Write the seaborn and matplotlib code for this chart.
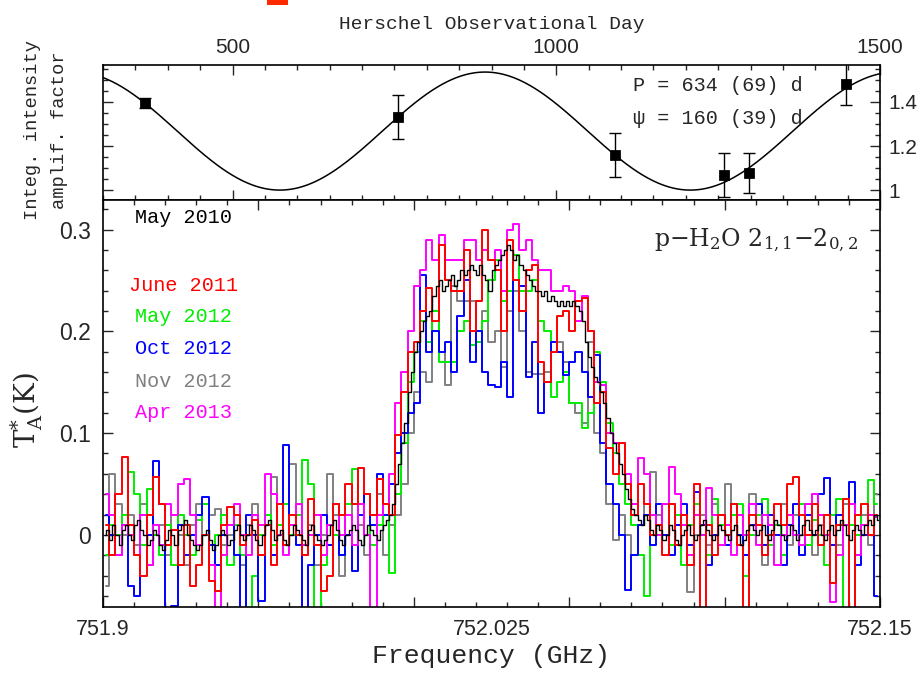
import numpy as np
import pandas as pd
import matplotlib
matplotlib.use("Agg")
import matplotlib.pyplot as plt
from matplotlib.patches import Rectangle
from matplotlib.ticker import MultipleLocator, FuncFormatter
import seaborn as sns

# --- top panel: integrated intensity amplification factor vs Herschel day ---
obs_day = [365, 756, 1091, 1259, 1298, 1447]
amp_factor = [1.395, 1.332, 1.159, 1.068, 1.077, 1.48]
amp_err = [0.023, 0.10, 0.10, 0.10, 0.09, 0.095]

# sinusoidal fit (period from the panel text)
fit_period = 634
fit_day_max = 890
fit_mean = 1.268
fit_amp = 0.268

# --- bottom panel: spectra (T_A* in K) ---
epochs = ["June 2011", "May 2012", "Oct 2012", "Nov 2012", "Apr 2013"]
epoch_colors = ["#ff0000", "#00ee00", "#0000ff", "#808080", "#ff00ff"]
chan_start = 751.901   # centre of first channel, colour spectra
chan_width = 0.002
black_start = 751.9005  # May 2010 spectrum has finer channels
black_width = 0.001

ta_jun2011 = [
    0.01, -0.02, 0.04, 0.077, 0.01, -0.02, -0.04, 0.02, 0.057, 0.03,
    -0.01, 0.005, -0.03, 0.01, -0.05, -0.03, 0.0, -0.045, -0.055, 0.01,
    0.027, 0.02, -0.01, 0.0, 0.015, -0.02, 0.01, -0.03, 0.03, -0.01,
    0.02, 0.0, -0.02, 0.035, -0.01, -0.055, -0.04, 0.03, 0.02, 0.05,
    0.03, 0.066, 0.04, 0.02, 0.055, 0.03, 0.02, 0.098, 0.14, 0.18,
    0.19, 0.22, 0.243, 0.21, 0.285, 0.25, 0.24, 0.24, 0.28, 0.2,
    0.23, 0.30, 0.27, 0.26, 0.2, 0.29, 0.25, 0.22, 0.26, 0.265,
    0.17, 0.15, 0.18, 0.215, 0.22, 0.2, 0.23, 0.233, 0.2, 0.13,
    0.14, 0.085, 0.06, 0.09, 0.05, 0.02, 0.05, 0.03, 0.0, 0.01,
    -0.02, 0.03, -0.01, 0.02, -0.03, 0.05, -0.08, 0.01, -0.02, 0.02,
    0.0, 0.03, -0.01, -0.08, 0.02, 0.01, -0.02, 0.0, 0.03, 0.01,
    0.05, 0.057, 0.02, 0.0, 0.03, -0.01, 0.02, -0.047, 0.01, 0.035,
    -0.08, 0.02, 0.03, 0.0, 0.02,
]
ta_may2012 = [
    -0.02, 0.01, 0.0, 0.02, 0.062, 0.04, -0.01, 0.045, 0.0, -0.02,
    0.01, -0.03, 0.02, 0.0, -0.02, 0.015, 0.03, -0.01, 0.0, 0.02,
    -0.03, 0.01, -0.02, -0.08, -0.04, 0.0, 0.02, -0.01, 0.01, 0.03,
    0.0, 0.02, 0.074, 0.05, -0.08, -0.03, 0.01, 0.0, -0.02, 0.03,
    0.065, 0.02, 0.04, -0.01, 0.01, 0.03, -0.037, 0.04, 0.09, 0.15,
    0.18, 0.21, 0.19, 0.22, 0.17, 0.17, 0.17, 0.2, 0.21, 0.187,
    0.19, 0.21, 0.25, 0.27, 0.23, 0.24, 0.275, 0.24, 0.24, 0.25,
    0.21, 0.2, 0.135, 0.15, 0.16, 0.13, 0.13, 0.105, 0.12, 0.18,
    0.15, 0.11, 0.08, 0.05, 0.03, 0.01, -0.02, -0.06, 0.02, 0.0,
    0.03, -0.01, 0.02, -0.03, 0.01, 0.03, 0.0, -0.02, 0.035, 0.01,
    -0.01, 0.02, 0.03, -0.04, 0.0, 0.02, 0.035, -0.01, 0.01, -0.02,
    0.02, 0.0, 0.03, -0.01, 0.015, 0.0, -0.03, 0.02, 0.035, -0.08,
    0.01, 0.0, 0.03, 0.054, 0.03,
]
ta_oct2012 = [
    0.02, 0.0, -0.02, 0.01, -0.05, -0.06, 0.02, 0.0, 0.073, 0.03,
    -0.08, -0.07, 0.01, -0.02, 0.0, 0.02, 0.037, -0.01, -0.03, 0.0,
    0.01, -0.02, -0.08, 0.02, 0.0, -0.065, 0.01, -0.02, 0.03, 0.088,
    0.02, -0.01, -0.08, -0.03, 0.0, 0.02, -0.01, 0.03, -0.02, 0.0,
    -0.035, 0.02, 0.04, 0.01, 0.06, 0.02, 0.05, 0.08, 0.1, 0.12,
    0.13, 0.255, 0.18, 0.2, 0.18, 0.19, 0.16, 0.215, 0.25, 0.17,
    0.2, 0.16, 0.147, 0.145, 0.17, 0.135, 0.25, 0.245, 0.155, 0.19,
    0.12, 0.15, 0.19, 0.18, 0.157, 0.17, 0.18, 0.16, 0.135, 0.177,
    0.09, 0.05, 0.03, 0.0, -0.054, -0.02, 0.01, 0.02, -0.01, 0.03,
    0.0, -0.02, 0.01, 0.03, -0.01, 0.042, 0.01, -0.03, 0.0, 0.02,
    -0.01, 0.03, 0.0, -0.02, 0.01, 0.03, -0.01, 0.02, 0.0, -0.03,
    0.01, 0.03, -0.02, 0.02, 0.0, 0.04, 0.056, -0.01, 0.02, 0.01,
    0.052, -0.03, 0.0, 0.02, -0.06,
]
ta_nov2012 = [
    -0.05, 0.06, 0.03, 0.0, 0.02, -0.01, 0.03, -0.03, 0.0, 0.01,
    -0.02, 0.02, 0.0, -0.03, 0.01, 0.03, 0.0, 0.02, 0.025, -0.01,
    0.0, 0.02, -0.03, 0.01, 0.03, 0.0, 0.02, 0.057, 0.01, -0.01,
    0.07, 0.03, -0.02, 0.01, -0.03, 0.0, 0.06, 0.02, -0.04, 0.0,
    0.03, 0.01, -0.02, 0.02, 0.04, -0.02, 0.01, 0.02, 0.05, 0.1,
    0.14, 0.16, 0.15, 0.22, 0.18, 0.147, 0.245, 0.23, 0.23, 0.23,
    0.19, 0.22, 0.19, 0.2, 0.165, 0.22, 0.24, 0.2, 0.16, 0.158,
    0.158, 0.16, 0.18, 0.19, 0.17, 0.13, 0.12, 0.11, 0.19, 0.1,
    0.08, 0.03, -0.005, 0.02, 0.0, -0.02, 0.01, 0.03, 0.062, 0.02,
    0.0, 0.03, -0.01, 0.02, -0.056, 0.0, 0.02, -0.01, 0.03, 0.01,
    0.05, 0.02, 0.0, -0.02, 0.04, 0.01, -0.03, 0.02, 0.0, 0.03,
    -0.01, 0.02, 0.0, 0.03, -0.02, 0.01, 0.0, 0.02, -0.01, 0.03,
    -0.08, -0.02, 0.02, -0.01, 0.04,
]
ta_apr2013 = [
    0.04, 0.02, -0.02, 0.01, 0.0, -0.02, 0.02, -0.03, 0.01, -0.01,
    0.03, 0.02, 0.05, 0.055, 0.02, -0.01, 0.0, -0.03, -0.08, -0.02,
    0.01, 0.03, 0.0, -0.02, 0.02, 0.01, 0.06, 0.04, 0.0, -0.02,
    0.01, 0.03, -0.01, 0.0, 0.02, -0.02, 0.01, 0.03, 0.0, 0.02,
    -0.01, 0.03, 0.0, -0.08, 0.02, 0.03, 0.06, 0.13, 0.16, 0.2,
    0.245, 0.26, 0.29, 0.27, 0.295, 0.27, 0.27, 0.27, 0.29, 0.29,
    0.27, 0.28, 0.27, 0.28, 0.24, 0.30, 0.305, 0.28, 0.29, 0.27,
    0.26, 0.26, 0.24, 0.24, 0.245, 0.24, 0.21, 0.235, 0.2, 0.15,
    0.147, 0.1, 0.09, 0.09, 0.06, 0.03, 0.076, 0.06, 0.02, 0.0,
    0.03, 0.067, 0.04, 0.01, -0.02, 0.02, 0.0, 0.046, 0.02, -0.01,
    0.01, -0.02, 0.02, 0.0, 0.03, -0.01, 0.02, 0.01, -0.03, 0.0,
    0.02, 0.0, -0.01, 0.03, 0.04, 0.02, 0.0, -0.066, -0.02, 0.01,
    0.03, -0.02, 0.01, 0.02, 0.018,
]
ta_may2010 = [
    0.0, 0.005, -0.005, 0.01, 0.0, -0.01, 0.005, 0.01, 0.0, -0.005,
    0.01, 0.015, 0.005, 0.0, -0.01, -0.005, 0.005, 0.0, -0.01, -0.015,
    -0.005, 0.005, 0.0, -0.01, 0.005, 0.01, 0.015, 0.0, -0.005, -0.01,
    -0.015, -0.01, 0.0, 0.005, -0.005, -0.015, -0.01, 0.0, 0.005, 0.0,
    -0.01, -0.005, 0.005, 0.01, 0.0, -0.005, 0.0, 0.01, 0.005, -0.005,
    -0.01, 0.0, 0.01, 0.015, 0.005, -0.005, 0.0, 0.005, -0.005, -0.01,
    0.0, 0.01, 0.005, 0.0, -0.005, -0.01, 0.005, 0.01, 0.0, -0.005,
    -0.01, -0.005, 0.0, 0.01, 0.015, 0.005, -0.005, -0.01, 0.0, 0.005,
    0.01, 0.005, -0.005, -0.01, 0.0, 0.01, 0.005, 0.0, -0.005, 0.005,
    0.01, 0.015, 0.02, 0.03, 0.05, 0.07, 0.09, 0.11, 0.14, 0.16,
    0.18, 0.19, 0.20, 0.21, 0.215, 0.22, 0.235, 0.245, 0.25, 0.24,
    0.245, 0.25, 0.255, 0.245, 0.25, 0.26, 0.255, 0.26, 0.265, 0.26,
    0.255, 0.265, 0.255, 0.25, 0.24, 0.26, 0.265, 0.27, 0.275, 0.28,
    0.285, 0.28, 0.27, 0.275, 0.265, 0.26, 0.255, 0.25, 0.245, 0.24,
    0.24, 0.235, 0.24, 0.23, 0.235, 0.23, 0.225, 0.23, 0.225, 0.23,
    0.225, 0.23, 0.225, 0.22, 0.21, 0.19, 0.175, 0.165, 0.155, 0.15,
    0.14, 0.13, 0.115, 0.1, 0.09, 0.08, 0.07, 0.06, 0.045, 0.035,
    0.025, 0.02, 0.015, 0.01, 0.02, 0.015, 0.005, 0.0, 0.01, 0.005,
    -0.005, 0.0, 0.01, 0.005, -0.005, -0.01, 0.0, 0.005, 0.01, 0.0,
    -0.005, 0.0, 0.01, 0.015, 0.005, 0.0, -0.005, 0.0, 0.01, 0.005,
    0.0, -0.005, 0.005, 0.01, 0.0, -0.01, -0.005, 0.005, 0.01, 0.005,
    0.0, 0.005, 0.01, 0.0, -0.005, 0.005, 0.015, 0.01, 0.0, -0.005,
    0.0, 0.01, 0.005, -0.005, 0.0, 0.01, 0.015, 0.005, 0.0, 0.005,
    0.01, 0.0, -0.005, 0.005, 0.01, 0.0, 0.005, 0.015, 0.01, 0.0,
    -0.005, 0.005, 0.01, 0.005, 0.0, 0.01, 0.015, 0.01, 0.02, 0.015,
]

sns.set_theme(style="ticks")
plt.rcParams["font.family"] = ["Liberation Sans", "DejaVu Sans"]
plt.rcParams["mathtext.fontset"] = "dejavuserif"
MONO = ["Liberation Mono", "DejaVu Sans Mono"]

fig = plt.figure(figsize=(9.22, 6.78), dpi=100, facecolor="white")
ax_top = fig.add_axes([103 / 922, 1 - 200 / 678, 777 / 922, 135 / 678])
ax = fig.add_axes([103 / 922, 1 - 607 / 678, 777 / 922, 407 / 678])

# ---- top panel
days = np.linspace(300, 1500, 600)
fit_curve = fit_mean + fit_amp * np.cos(2 * np.pi * (days - fit_day_max) / fit_period)
sns.lineplot(x=days, y=fit_curve, ax=ax_top, color="black", lw=1.1)
ax_top.errorbar(obs_day, amp_factor, yerr=amp_err, fmt="none", ecolor="black",
                elinewidth=1.0, capsize=4, capthick=1.0)
sns.scatterplot(x=obs_day, y=amp_factor, ax=ax_top, marker="s", s=48,
                color="black", edgecolor="black", zorder=5)
ax_top.set_xlim(300, 1500)
ax_top.set_ylim(0.955, 1.568)
ax_top.xaxis.set_major_locator(MultipleLocator(500))
ax_top.xaxis.set_minor_locator(MultipleLocator(50))
ax_top.yaxis.set_major_locator(MultipleLocator(0.2))
ax_top.yaxis.set_minor_locator(MultipleLocator(0.05))
ax_top.yaxis.set_major_formatter(FuncFormatter(lambda v, p: "1" if abs(v - 1) < 1e-6 else f"{v:.1f}"))
ax_top.tick_params(which="both", direction="in", top=True, bottom=True, left=True, right=True,
                   labeltop=True, labelbottom=False, labelleft=False, labelright=True,
                   labelsize=15, pad=6)
ax_top.tick_params(which="major", length=7, width=1.0)
ax_top.tick_params(which="minor", length=3.5, width=1.0)
ax_top.xaxis.set_label_position("top")
ax_top.set_xlabel("Herschel Observational Day", family=MONO, fontsize=14, labelpad=6)
ax_top.set_ylabel("Integ. intensity\namplif. factor", family=MONO, fontsize=13.5, linespacing=1.8)
ax_top.yaxis.set_label_coords(-0.045, 0.52)
ax_top.text(0.682, 0.845, "P = 634 (69) d", transform=ax_top.transAxes, family=MONO,
            fontsize=14.5, va="center", ha="left")
ax_top.text(0.682, 0.605, "ψ = 160 (39) d", transform=ax_top.transAxes, family=MONO,
            fontsize=14.5, va="center", ha="left")

# ---- bottom panel
freq = chan_start + chan_width * np.arange(len(ta_jun2011))
spec = pd.DataFrame({
    "freq": np.tile(freq, len(epochs)),
    "ta": np.concatenate([ta_jun2011, ta_may2012, ta_oct2012, ta_nov2012, ta_apr2013]),
    "epoch": np.repeat(epochs, len(freq)),
})
draw_order = ["Nov 2012", "May 2012", "Oct 2012", "Apr 2013", "June 2011"]
palette = dict(zip(epochs, epoch_colors))
for ep in draw_order:
    sub = spec[spec["epoch"] == ep]
    sns.lineplot(data=sub, x="freq", y="ta", ax=ax, color=palette[ep], lw=1.4,
                 drawstyle="steps-mid", estimator=None, legend=False)
freq_black = black_start + black_width * np.arange(len(ta_may2010))
sns.lineplot(x=freq_black, y=ta_may2010, ax=ax, color="black", lw=1.0,
             drawstyle="steps-mid", estimator=None)

ax.set_xlim(751.9, 752.15)
ax.set_ylim(-0.0708, 0.329)
ax.xaxis.set_major_locator(MultipleLocator(0.05))
ax.xaxis.set_minor_locator(MultipleLocator(0.01))
ax.yaxis.set_major_locator(MultipleLocator(0.1))
ax.yaxis.set_minor_locator(MultipleLocator(0.02))
ax.yaxis.set_major_formatter(FuncFormatter(lambda v, p: "0" if abs(v) < 1e-9 else f"{v:.1f}"))
ax.tick_params(which="both", direction="in", top=True, bottom=True, left=True, right=True,
               labelbottom=False, labelleft=True, labelsize=16.5, pad=9)
ax.tick_params(which="major", length=7, width=1.0)
ax.tick_params(which="minor", length=3.5, width=1.0)
for fv, lab in [(751.9, "751.9"), (752.025, "752.025"), (752.15, "752.15")]:
    ax.text(fv, -0.03, lab, transform=ax.get_xaxis_transform(), ha="center", va="top",
            fontsize=15.5)
ax.set_xlabel("Frequency (GHz)", family=MONO, fontsize=19, labelpad=27)
ax.set_ylabel(r"T$_{\rm A}^{*}$(K)", fontsize=20, family="DejaVu Serif")
ax.yaxis.set_label_coords(-0.075, 0.484)

for a in (ax_top, ax):
    for s in a.spines.values():
        s.set_linewidth(1.2)
        s.set_color("black")
    a.set_facecolor("white")

# epoch labels
ax.text(0.104, 0.956, "May 2010", transform=ax.transAxes, family=MONO, fontsize=14.5,
        color="black", ha="center", va="center")
label_y = [0.791, 0.713, 0.636, 0.555, 0.477]
for ep, col, yy in zip(epochs, epoch_colors, label_y):
    ax.text(0.104, yy, ep, transform=ax.transAxes, family=MONO, fontsize=14.5,
            color=col, ha="center", va="center")

ax.text(0.972, 0.902, r"p$-$H$_2$O 2$_{1,1}$$-$2$_{0,2}$", transform=ax.transAxes,
        family="DejaVu Serif", fontsize=17, ha="right", va="center")

# small red mark at the top edge
fig.add_artist(Rectangle((267 / 922, 1 - 5 / 678), 21 / 922, 5 / 678,
                         transform=fig.transFigure, color="#ff2a00", lw=0))

fig.savefig("out.png", dpi=100, facecolor="white")
